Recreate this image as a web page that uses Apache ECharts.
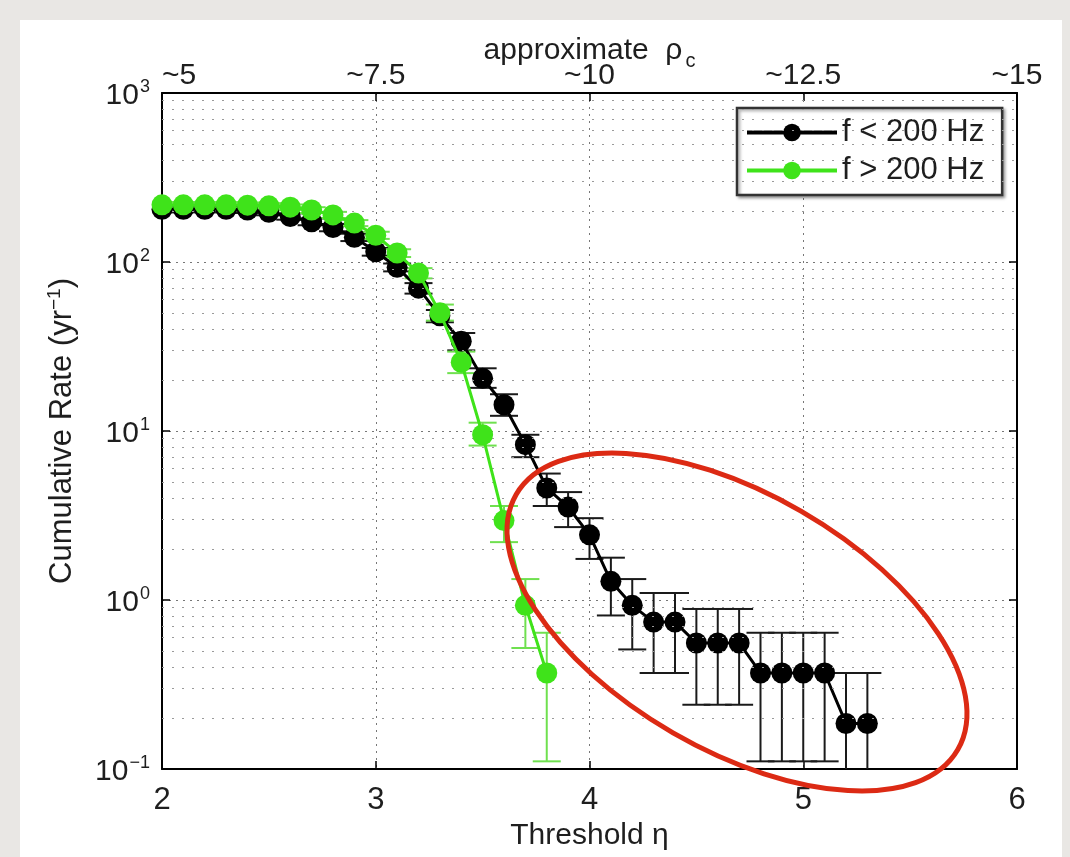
<!DOCTYPE html>
<html>
<head>
<meta charset="utf-8">
<script src="https://cdn.jsdelivr.net/npm/echarts@6/dist/echarts.min.js"></script>
<style>
html,body{margin:0;padding:0;background:#e9e7e4;}
#chart{width:1070px;height:857px;}
</style>
</head>
<body>
<div id="chart"></div>
<script>
// ---- data ----
const thresholds = [2.0,2.1,2.2,2.3,2.4,2.5,2.6,2.7,2.8,2.9,3.0,3.1,3.2,3.3,3.4,3.5,3.6,3.7,3.8,3.9,4.0,4.1,4.2,4.3,4.4,4.5,4.6,4.7,4.8,4.9,5.0,5.1,5.2,5.3];
const lowRate  = [205,205,205,205,203,197,186,173,160,140,115,93,70,48,34,20.5,14.3,8.3,4.6,3.55,2.43,1.29,0.93,0.74,0.74,0.557,0.557,0.557,0.37,0.37,0.37,0.37,0.186,0.186];
const lowErrLo = [197,197,197,197,195,189,178,165,152,133,109,88,65,44,30,18,12.3,7.0,3.6,2.7,1.75,0.81,0.51,0.37,0.37,0.24,0.24,0.24,0.111,0.111,0.111,0.111,0.05,0.05];
const lowErrHi = [213,213,213,213,211,205,194,181,168,147,121,98,75,52,38,23.5,16.5,9.5,5.6,4.35,3.05,1.78,1.33,1.1,1.1,0.885,0.885,0.885,0.64,0.64,0.64,0.64,0.37,0.37];

const highThresh = [2.0,2.1,2.2,2.3,2.4,2.5,2.6,2.7,2.8,2.9,3.0,3.1,3.2,3.3,3.4,3.5,3.6,3.7,3.8];
const highRate   = [218,218,218,218,217,215,211,203,190,170,144,113,86,50,25.5,9.5,2.95,0.93,0.37];
const highErrLo  = [210,210,210,210,209,207,203,195,182,163,137,107,80,45,22,8.2,2.2,0.52,0.111];
const highErrHi  = [226,226,226,226,225,223,219,211,198,177,151,119,92,56,29.5,11.2,3.6,1.33,0.64];

const bottomTicks = [2,3,4,5,6];
const topTickLabels = ['~5','~7.5','~10','~12.5','~15'];
const seriesNames = ['f < 200 Hz','f > 200 Hz'];

// ---- build ----
const lowLine = thresholds.map((x,i)=>[x, lowRate[i]]);
const highLine = highThresh.map((x,i)=>[x, highRate[i]]);
const lowErr = thresholds.map((x,i)=>[x, lowErrLo[i], lowErrHi[i]]);
const highErr = highThresh.map((x,i)=>[x, highErrLo[i], highErrHi[i]]);

const minorGrid = [];
for (let e=-1;e<=2;e++) for (let m=2;m<=9;m++) minorGrid.push({yAxis: m*Math.pow(10,e)});

const FONT = 'Liberation Sans, Arial, Helvetica, sans-serif';
const TXT = '#1e1e1e';
const BLACK = '#000000', GREEN = '#3fe31a';

function errRender(color, width, hw){
  return function(params, api){
    const x = api.value(0), lo = api.value(1), hi = api.value(2);
    const p1 = api.coord([x, hi]);
    const p2 = api.coord([x, lo]);
    const st = {stroke: color, lineWidth: width};
    return {type:'group', children:[
      {type:'line', shape:{x1:p1[0],y1:p1[1],x2:p2[0],y2:p2[1]}, style:st},
      {type:'line', shape:{x1:p1[0]-hw,y1:p1[1],x2:p1[0]+hw,y2:p1[1]}, style:st},
      {type:'line', shape:{x1:p2[0]-hw,y1:p2[1],x2:p2[0]+hw,y2:p2[1]}, style:st}
    ]};
  };
}

const supRich = {
  b: {fontSize: 30, fontFamily: FONT, color:TXT, padding:[6,0,0,0]},
  s: {fontSize: 18, fontFamily: FONT, color:TXT, padding:[0,0,12,1]}
};

const chart = echarts.init(document.getElementById('chart'), null, {renderer:'canvas'});
const option = {
  animation: false,
  backgroundColor: '#e9e7e4',
  graphic: [
    {type:'rect', z:-10, shape:{x:20,y:20,width:1042,height:860}, style:{fill:'#ffffff'}},
    {type:'ellipse', z:100, x:737, y:622, rotation:-Math.PI/6,
     shape:{cx:0, cy:0, rx:255, ry:128},
     style:{fill:'none', stroke:'#dc2a14', lineWidth:5}}
  ],
  grid: {left:162, right:53, top:93, bottom:88, containLabel:false},
  legend: {
    orient:'vertical', left:737, top:108,
    data: seriesNames,
    itemWidth: 90, itemHeight: 22, itemGap: 7,
    padding:[9,18,9,8],
    backgroundColor:'#ffffff',
    borderColor:'#333', borderWidth:2.5,
    shadowColor:'rgba(0,0,0,0.35)', shadowBlur:3, shadowOffsetX:2, shadowOffsetY:2,
    lineStyle:{width:4},
    textStyle:{fontSize:31, fontFamily:FONT, color:TXT}
  },
  xAxis: [
    {type:'value', min:2, max:6, interval:1, position:'bottom',
     name:'Threshold η', nameLocation:'middle', nameGap:52,
     nameTextStyle:{fontSize:30, fontFamily:FONT, color:TXT},
     axisLine:{show:true, onZero:false, lineStyle:{color:'#000', width:2}},
     axisTick:{show:true, inside:true, length:8, lineStyle:{color:'#000', width:1.5}},
     axisLabel:{fontSize:31, fontFamily:FONT, color:TXT, margin:16},
     splitLine:{show:true, lineStyle:{color:'#777', type:[2,5], width:1}}
    },
    {type:'value', min:2, max:6, interval:1, position:'top',
     name:'approximate  ρ{c|c}', nameLocation:'middle', nameGap:22, nameMoveOverlap:false,
     nameTextStyle:{fontSize:30, fontFamily:FONT, color:TXT,
       rich:{c:{fontSize:20, fontFamily:FONT, color:TXT, padding:[20,0,0,3]}}},
     axisLine:{show:true, onZero:false, lineStyle:{color:'#000', width:2}},
     axisTick:{show:true, inside:true, length:8, lineStyle:{color:'#000', width:1.5}},
     axisLabel:{fontSize:30, fontFamily:FONT, color:TXT, margin:2, alignMinLabel:'left',
       formatter:function(v){ return topTickLabels[bottomTicks.indexOf(Math.round(v))] || ''; }},
     splitLine:{show:false}
    }
  ],
  yAxis: [
    {type:'log', logBase:10, min:0.1, max:1000, position:'left',
     name:'Cumulative Rate (yr{s|−1})', nameLocation:'middle', nameGap:82, nameRotate:90,
     nameTextStyle:{fontSize:31, fontFamily:FONT, color:TXT,
       rich:{s:{fontSize:19, fontFamily:FONT, color:TXT, padding:[0,0,16,0]}}},
     axisLine:{show:true, onZero:false, lineStyle:{color:'#000', width:2}},
     axisTick:{show:true, inside:true, length:8, lineStyle:{color:'#000', width:1.5}},
     axisLabel:{margin:12, rich:supRich,
       formatter:function(v){ const e=Math.round(Math.log10(v)); return '{b|10}{s|'+(e<0?'−'+(-e):e)+'}'; }},
     splitLine:{show:true, lineStyle:{color:'#777', type:[2,5], width:1}}
    },
    {type:'log', logBase:10, min:0.1, max:1000, position:'right',
     axisLine:{show:true, onZero:false, lineStyle:{color:'#000', width:2}},
     axisTick:{show:true, inside:true, length:8, lineStyle:{color:'#000', width:1.5}},
     axisLabel:{show:false}, splitLine:{show:false}
    }
  ],
  series: [
    {name:'minor-grid', type:'line', data:[], silent:true, z:1,
     markLine:{silent:true, symbol:'none', label:{show:false}, animation:false,
       lineStyle:{color:'#9a9a9a', type:[2,8], width:1}, data:minorGrid}},
    {name:'errLow', type:'custom', data:lowErr, clip:true, z:2, silent:true,
     encode:{x:0, y:[1,2]}, renderItem: errRender('#1a1a1a', 2, 14)},
    {name:'errHigh', type:'custom', data:highErr, clip:true, z:2, silent:true,
     encode:{x:0, y:[1,2]}, renderItem: errRender('#6fe04f', 2, 14)},
    {name:seriesNames[0], type:'line', data:lowLine, z:4,
     symbol:'circle', symbolSize:21, showAllSymbol:true,
     lineStyle:{color:BLACK, width:3}, itemStyle:{color:BLACK}},
    {name:seriesNames[1], type:'line', data:highLine, z:5,
     symbol:'circle', symbolSize:21, showAllSymbol:true,
     lineStyle:{color:GREEN, width:3}, itemStyle:{color:GREEN}}
  ]
};
chart.setOption(option);
</script>
</body>
</html>
